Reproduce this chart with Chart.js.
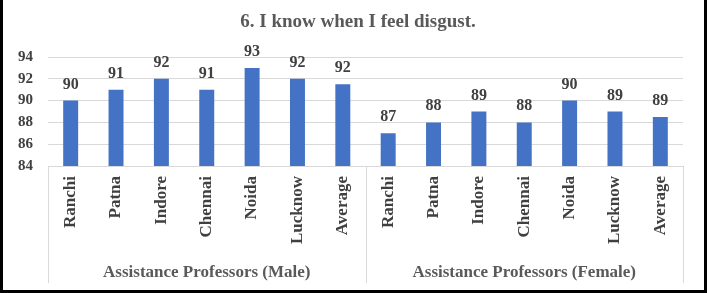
<!DOCTYPE html>
<html>
<head>
<meta charset="utf-8">
<script src="https://cdn.jsdelivr.net/npm/chart.js@4"></script>
<style>
  html, body { margin: 0; padding: 0; background: #fff; }
  #wrap { position: relative; width: 715px; height: 293px; }
  #frame {
    position: absolute; left: 0; top: 0; width: 707px; height: 293px;
    box-sizing: border-box; border: 3px solid #000; border-top: none;
    pointer-events: none;
  }
</style>
</head>
<body>
<div id="wrap">
  <canvas id="chart" width="715" height="293"></canvas>
  <div id="frame"></div>
</div>
<script>
// --- Data ------------------------------------------------------
const titleText = '6. I know when I feel disgust.';
const cities = ['Ranchi', 'Patna', 'Indore', 'Chennai', 'Noida', 'Lucknow', 'Average'];
const groups = ['Assistance Professors (Male)', 'Assistance Professors (Female)'];
const maleValues = [90, 91, 92, 91, 93, 92, 91.5];
const femaleValues = [87, 88, 89, 88, 90, 89, 88.5];
const yTicks = [84, 86, 88, 90, 92, 94];

const labels = cities.concat(cities);
const values = maleValues.concat(femaleValues);

const SERIF = "'Liberation Serif', 'Times New Roman', serif";

// --- Plugin: title, data labels, group labels, separators --------
const extras = {
  id: 'extras',
  afterDatasetsDraw(chart) {
    const ctx = chart.ctx;
    const meta = chart.getDatasetMeta(0);
    ctx.save();
    ctx.fillStyle = '#404040';
    ctx.font = 'bold 16px ' + SERIF;
    ctx.textAlign = 'center';
    ctx.textBaseline = 'alphabetic';
    meta.data.forEach((bar, i) => {
      ctx.fillText(Math.round(values[i]), bar.x, bar.y - 12);
    });
    ctx.restore();
  },
  afterDraw(chart) {
    const ctx = chart.ctx;
    const x = chart.scales.x;
    const area = chart.chartArea;
    const n = cities.length;
    const mid = (x.getPixelForValue(n - 1) + x.getPixelForValue(n)) / 2;
    const bounds = [x.left, mid, x.right];

    ctx.save();
    // title, centred on the page
    ctx.fillStyle = '#595959';
    ctx.font = 'bold 19px ' + SERIF;
    ctx.textAlign = 'center';
    ctx.textBaseline = 'middle';
    ctx.fillText(titleText, 358, 22);

    ctx.strokeStyle = '#d9d9d9';
    ctx.lineWidth = 1;
    bounds.forEach(b => {
      const px = Math.round(b) + 0.5;
      ctx.beginPath();
      ctx.moveTo(px, area.bottom);
      ctx.lineTo(px, 283);
      ctx.stroke();
    });

    ctx.font = 'bold 17px ' + SERIF;
    groups.forEach((g, i) => {
      ctx.fillText(g, (bounds[i] + bounds[i + 1]) / 2, 273);
    });
    ctx.restore();
  }
};

new Chart(document.getElementById('chart'), {
  type: 'bar',
  data: {
    labels: labels,
    datasets: [{
      data: values,
      backgroundColor: '#4472C4',
      categoryPercentage: 1,
      barPercentage: 0.33
    }]
  },
  options: {
    responsive: false,
    animation: false,
    layout: { padding: { top: 57, left: 0, right: 32, bottom: 0 } },
    plugins: {
      legend: { display: false },
      tooltip: { enabled: false },
      title: { display: false }
    },
    scales: {
      y: {
        min: 84,
        max: 94,
        afterBuildTicks: (s) => { s.ticks = yTicks.map(v => ({ value: v })); },
        afterFit: (s) => { s.width = 48; },
        grid: { color: '#d9d9d9', drawTicks: false },
        border: { display: false },
        ticks: {
          padding: 15,
          color: '#404040',
          font: { family: SERIF, size: 15, weight: 'bold' }
        }
      },
      x: {
        afterFit: (s) => { s.height = 127; },
        grid: { display: false, drawTicks: false },
        border: { display: true, color: '#d9d9d9' },
        ticks: {
          padding: 10,
          minRotation: 90,
          maxRotation: 90,
          autoSkip: false,
          color: '#404040',
          font: { family: SERIF, size: 17, weight: 'bold' }
        }
      }
    }
  },
  plugins: [extras]
});
</script>
</body>
</html>
